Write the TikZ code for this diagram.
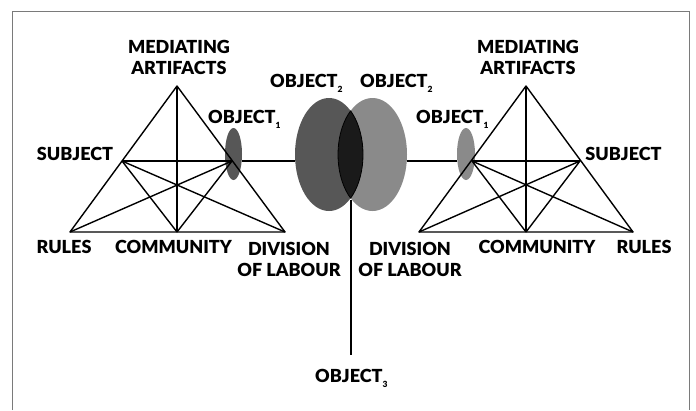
\documentclass[tikz,border=0pt]{standalone}
\usepackage{fontspec}
\setmainfont{Lato}[BoldFont={Lato Black}]
\usetikzlibrary{shapes.geometric}
\definecolor{frameg}{HTML}{7A7A7A}
\definecolor{darkobj}{HTML}{575757}
\definecolor{lightobj}{HTML}{8A8A8A}
\definecolor{lensc}{HTML}{1A1A1A}
\newcommand\sbs[1]{\raisebox{-5.5pt}{\fontsize{8.5}{8.5}\selectfont #1}}
\begin{document}
\begin{tikzpicture}[x=1pt,y=-1pt,
  lbl/.style={inner sep=0pt,font=\fontsize{18}{21}\selectfont\bfseries},
  tri/.style={line width=1.4pt,line join=round},
  conn/.style={line width=2pt},
  blob/.style={ellipse,inner sep=0pt,draw=none}]
\useasboundingbox (0,0) rectangle (696,410);
\fill[white] (0,0) rectangle (696,410);
% frame
\draw[frameg,line width=1pt] (12,410) -- (12,11) -- (689,11) -- (689,410);

% left triangle points
\coordinate (LA) at (177,86);
\coordinate (LR) at (70,232);
\coordinate (LC) at (177,232);
\coordinate (LD) at (285,232);
\coordinate (LS) at (122,161);
\coordinate (LO) at (232,161);
% right triangle points
\coordinate (RA) at (526,86);
\coordinate (RD) at (419,232);
\coordinate (RC) at (526,232);
\coordinate (RR) at (633,232);
\coordinate (RO) at (472,161);
\coordinate (RS) at (580,161);

% small objects
\node[blob,fill=darkobj,minimum width=17pt,minimum height=52pt] (LO1) at (233.5,154) {};
\node[blob,fill=lightobj,minimum width=18pt,minimum height=52pt] (RO1) at (466,154) {};

% big objects
\node[blob,fill=darkobj,minimum width=68pt,minimum height=113pt] (O2L) at (329,154.5) {};
\node[blob,fill=lightobj,minimum width=69pt,minimum height=113pt] (O2R) at (372.5,154.5) {};
\begin{scope}
  \clip (329,154.5) ellipse [x radius=34pt,y radius=56.5pt];
  \fill[lensc] (372.5,154.5) ellipse [x radius=34.5pt,y radius=56.5pt];
  \draw[black,line width=0.8pt] (372.5,154.5) ellipse [x radius=34.5pt,y radius=56.5pt];
\end{scope}
\begin{scope}
  \clip (372.5,154.5) ellipse [x radius=34.5pt,y radius=56.5pt];
  \draw[black,line width=0.8pt] (329,154.5) ellipse [x radius=34pt,y radius=56.5pt];
\end{scope}

% left triangle lines
\draw[tri] (LA) -- (LR) -- (LD) -- cycle;
\draw[tri] (LA) -- (LC);
\draw[tri] (LS) -- (LO);
\draw[tri] (LS) -- (LC);
\draw[tri] (LS) -- (LD);
\draw[tri] (LO) -- (LC);
\draw[tri] (LO) -- (LR);
% right triangle lines
\draw[tri] (RA) -- (RD) -- (RR) -- cycle;
\draw[tri] (RA) -- (RC);
\draw[tri] (RO) -- (RS);
\draw[tri] (RS) -- (RC);
\draw[tri] (RS) -- (RD);
\draw[tri] (RO) -- (RC);
\draw[tri] (RO) -- (RR);

% connectors
\draw[conn] (LO1.east |- LS) -- (O2L.west |- LS);
\draw[conn] (O2R.east |- RO) -- (RO1.west |- RO);
\coordinate (lensbot) at (350.7,200);
\coordinate (o3end) at (350.7,355);
\draw[conn] (lensbot) -- (o3end);

% labels left
\node[lbl,align=center,anchor=north] (medL) at (179,40) {MEDIATING\\ARTIFACTS};
\node[lbl,anchor=base] (subL) at (75,160) {SUBJECT};
\node[lbl,anchor=base west] (ob1L) at (208,123) {OBJECT\sbs{1}};
\node[lbl,anchor=base west] (ob2L) at (270,87) {OBJECT\sbs{2}};
\node[lbl,anchor=base] (rulL) at (64,253) {RULES};
\node[lbl,anchor=base] (comL) at (173.5,253) {COMMUNITY};
\node[lbl,align=center,anchor=north] (divL) at (289,242) {DIVISION\\OF LABOUR};
% labels right
\node[lbl,align=center,anchor=north] (medR) at (528,40) {MEDIATING\\ARTIFACTS};
\node[lbl,anchor=base] (subR) at (623.5,160) {SUBJECT};
\node[lbl,anchor=base west] (ob1R) at (416,123) {OBJECT\sbs{1}};
\node[lbl,anchor=base west] (ob2R) at (360,87) {OBJECT\sbs{2}};
\node[lbl,anchor=base] (rulR) at (644,253) {RULES};
\node[lbl,anchor=base] (comR) at (537,253) {COMMUNITY};
\node[lbl,align=center,anchor=north] (divR) at (410,242) {DIVISION\\OF LABOUR};
% object 3
\node[lbl,anchor=base west] (ob3) at (315,382) {OBJECT\sbs{3}};
\end{tikzpicture}
\end{document}
